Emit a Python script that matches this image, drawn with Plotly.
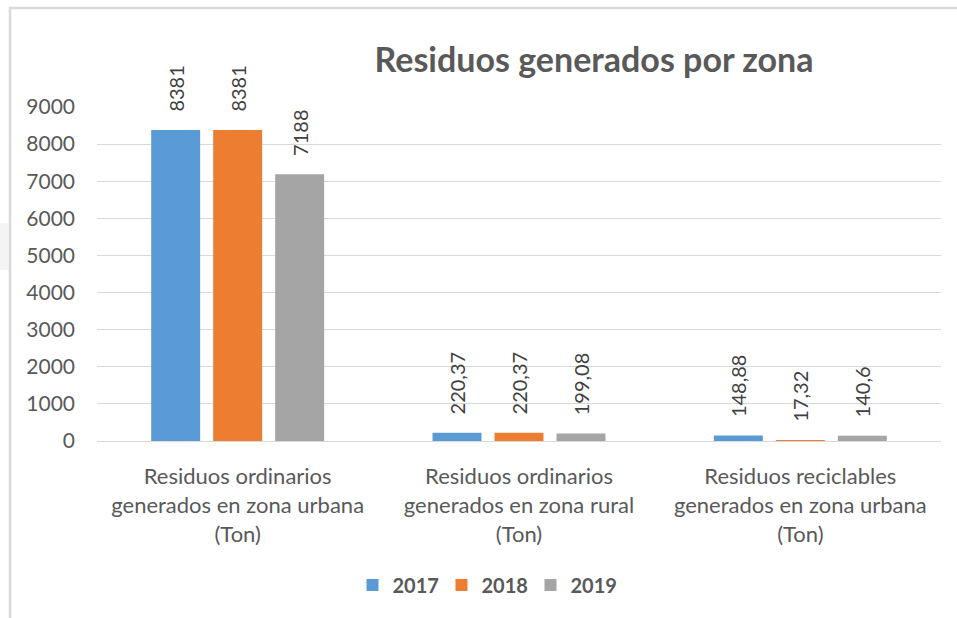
import plotly.graph_objects as go

# Categories, years and tonnage per year
categories = [
    "Residuos ordinarios<br>generados en zona urbana<br>(Ton)",
    "Residuos ordinarios<br>generados en zona rural<br>(Ton)",
    "Residuos reciclables<br>generados en zona urbana<br>(Ton)",
]
years = ["2017", "2018", "2019"]
values_2017 = [8381, 220.37, 148.88]
values_2018 = [8381, 220.37, 17.32]
values_2019 = [7188, 199.08, 140.6]
series = [values_2017, values_2018, values_2019]
colors = ["#5B9BD5", "#ED7D31", "#A5A5A5"]

y_ticks = [0, 1000, 2000, 3000, 4000, 5000, 6000, 7000, 8000, 9000]

FONT = "Lato"
W, H = 957, 618
M_L, M_R, M_T, M_B = 97, 16, 107, 177


def fmt(v):
    # decimal comma, no trailing zeros; leading no-break spaces keep the
    # rotated label clear of the bar top
    return "\u00a0\u00a0\u00a0" + f"{v:g}".replace(".", ",")


fig = go.Figure()
for year, vals, col in zip(years, series, colors):
    fig.add_trace(go.Bar(
        name=year,
        x=categories,
        y=vals,
        marker=dict(color=col, line=dict(width=0)),
        text=[fmt(v) for v in vals],
        textposition="outside",
        textangle=-90,
        constraintext="none",
        textfont=dict(family=FONT, size=20, color="#404040"),
        cliponaxis=False,
        hoverinfo="skip",
    ))

# frame of the chart area (pixel positions converted to paper units)
pw, ph = W - M_L - M_R, H - M_T - M_B


def px_x(px):
    return (px - M_L) / pw


def px_y(py):
    return (H - M_B - py) / ph


frame = "#D9D9D9"
shapes = [
    dict(type="line", xref="paper", yref="paper",
         x0=px_x(10), x1=px_x(10), y0=px_y(7), y1=px_y(H + 5),
         line=dict(color=frame, width=2.5)),
    dict(type="line", xref="paper", yref="paper",
         x0=px_x(9), x1=px_x(W + 5), y0=px_y(8), y1=px_y(8),
         line=dict(color=frame, width=2.5)),
    dict(type="rect", xref="paper", yref="paper",
         x0=px_x(0), x1=px_x(8.5), y0=px_y(270), y1=px_y(223),
         line=dict(width=0), fillcolor="#F4F4F4", layer="below"),
]

fig.update_layout(
    width=W, height=H,
    margin=dict(l=M_L, r=M_R, t=M_T, b=M_B, autoexpand=False),
    paper_bgcolor="white",
    plot_bgcolor="white",
    barmode="group",
    bargap=0.339,
    bargroupgap=0.21,
    font=dict(family=FONT, color="#595959"),
    title=dict(
        text="Residuos generados por zona",
        font=dict(family=FONT, size=34, color="#595959", weight="bold"),
        xref="container", x=594 / W, xanchor="center",
        yref="container", y=1 - 60 / H, yanchor="middle",
    ),
    legend=dict(
        orientation="h",
        xref="container", x=486 / W, xanchor="center",
        yref="container", y=1 - 585 / H, yanchor="middle",
        font=dict(family=FONT, size=20, color="#595959", weight="bold"),
        itemwidth=30,
        entrywidth=44,
        entrywidthmode="pixels",
        traceorder="normal",
    ),
    shapes=shapes,
    showlegend=True,
)

fig.update_yaxes(
    range=[0, 9000],
    tickvals=y_ticks,
    ticktext=[str(t) for t in y_ticks],
    showgrid=True, gridcolor="#D9D9D9", gridwidth=1,
    zeroline=False, showline=False,
    tickfont=dict(family=FONT, size=21, color="#595959"),
    ticklabelstandoff=21,
)
fig.update_xaxes(
    showgrid=False, zeroline=False,
    showline=True, linecolor="#D9D9D9", linewidth=1,
    tickfont=dict(family=FONT, size=22, color="#595959"),
    ticklabelstandoff=16,
)

fig.write_html("out.html")
